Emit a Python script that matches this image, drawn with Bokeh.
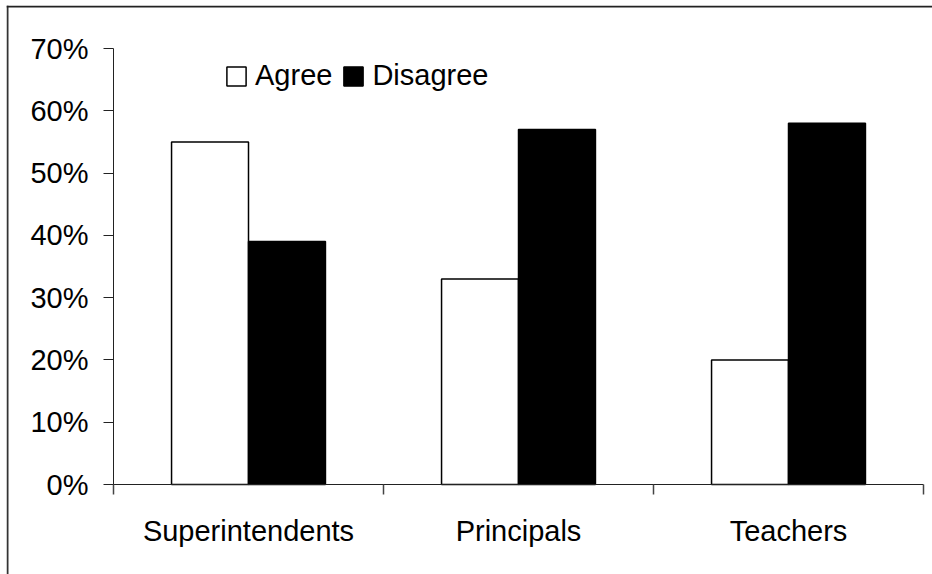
from bokeh.plotting import figure
from bokeh.models import (FixedTicker, PrintfTickFormatter, Legend, LegendItem,
                          ColumnDataSource, Range1d, Span)
from bokeh.embed import file_html
from bokeh.resources import INLINE

categories = ["Superintendents", "Principals", "Teachers"]
agree = [55, 33, 20]
disagree = [39, 57, 58]
y_ticks = [0, 10, 20, 30, 40, 50, 60, 70]
y_max = 70

FONT = "Liberation Sans"
FS = "29px"
W, H = 932, 574

# layout (pixels): frame = whole chart area; axes are fixed inside it
FL, FT = 6, 5                 # frame left / top
AX_L, AX_R = 113, 923         # x axis extent
AX_B, AX_T = 484, 48          # y axis extent (0% .. 70%)

n = len(categories)
ppx = (AX_R - AX_L) / n
ppy = (AX_B - AX_T) / y_max
xs, xe = -(AX_L - FL) / ppx, n + (W - AX_R) / ppx
ys, ye = -(H - AX_B) / ppy, y_max + (AX_T - FT) / ppy

centers = [i + 0.5 for i in range(n)]
bw = 0.285
src_a = ColumnDataSource(dict(x=[c - bw / 2 for c in centers], top=agree))
src_d = ColumnDataSource(dict(x=[c + bw / 2 for c in centers], top=disagree))

p = figure(width=W, height=H, output_backend="svg", toolbar_location=None,
           x_range=Range1d(xs, xe), y_range=Range1d(ys, ye),
           min_border_left=FL, min_border_right=0, min_border_top=FT,
           min_border_bottom=0)
p.outline_line_color = None
p.xgrid.visible = False
p.ygrid.visible = False
p.background_fill_color = "white"
p.border_fill_color = "white"

# chart-area border (left and top edges)
p.add_layout(Span(location=xs + 1 / ppx, dimension="height",
                  line_color="#333", line_width=2))
p.add_layout(Span(location=ye - 1 / ppy, dimension="width",
                  line_color="#222", line_width=2))

ra = p.vbar(x="x", top="top", bottom=0, width=bw, source=src_a,
            fill_color="white", line_color="black", line_width=1.5)
rd = p.vbar(x="x", top="top", bottom=0, width=bw, source=src_d,
            fill_color="black", line_color="black", line_width=1.5)

# y axis
ya = p.yaxis[0]
ya.fixed_location = 0
ya.bounds = (0, y_max)
ya.ticker = FixedTicker(ticks=y_ticks)
ya.formatter = PrintfTickFormatter(format="%d%%")
ya.major_tick_out = 10
ya.major_tick_in = 0
ya.minor_tick_out = 0
ya.minor_tick_in = 0
ya.major_label_standoff = 15
ya.major_label_text_font = FONT
ya.major_label_text_font_size = FS
ya.major_label_text_color = "black"
ya.axis_line_color = "#222"
ya.major_tick_line_color = "#222"

# x axis
xa = p.xaxis[0]
xa.fixed_location = 0
xa.bounds = (0, n)
xa.ticker = FixedTicker(ticks=centers, minor_ticks=list(range(n + 1)))
xa.major_label_overrides = {c: cat for c, cat in zip(centers, categories)}
xa.major_tick_out = 0
xa.major_tick_in = 0
xa.minor_tick_out = 10
xa.minor_tick_in = 0
xa.minor_tick_line_color = "#444"
xa.minor_tick_line_width = 1.5
xa.major_label_standoff = 20
xa.major_label_text_font = FONT
xa.major_label_text_font_size = FS
xa.major_label_text_color = "black"
xa.axis_line_color = "#222"

legend = Legend(items=[LegendItem(label="Agree", renderers=[ra]),
                       LegendItem(label="Disagree", renderers=[rd])],
                orientation="horizontal", location=(218, 482),
                glyph_width=24, glyph_height=24, label_standoff=7, spacing=9,
                padding=0, margin=0, border_line_color=None,
                background_fill_alpha=0, label_text_font=FONT,
                label_text_font_size=FS, label_text_color="black",
                label_height=24)
p.add_layout(legend)

open("out.html", "w").write(file_html(p, INLINE))
